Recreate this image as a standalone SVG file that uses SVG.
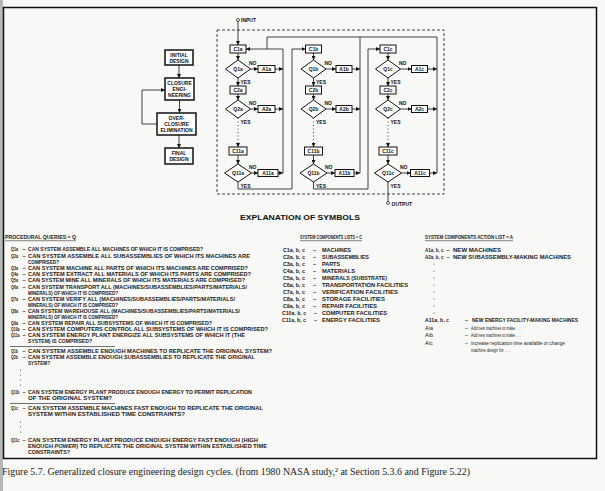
<svg xmlns="http://www.w3.org/2000/svg" width="605" height="491" viewBox="0 0 605 491">
<defs>
<marker id="ah" viewBox="0 0 6 6" refX="6" refY="3" markerWidth="4" markerHeight="4" orient="auto" markerUnits="userSpaceOnUse"><path d="M0,0L6,3L0,6z" fill="#111"/></marker>
<style>
.t{font-family:"Liberation Sans",Arial,sans-serif;font-weight:bold;font-size:5.5px;fill:#1a1a1a}
.q{font-family:"Liberation Sans",Arial,sans-serif;font-weight:bold;font-size:5px;fill:#1a1a1a}
.n{font-family:"Liberation Sans",Arial,sans-serif;font-size:5.5px;fill:#1a1a1a}
.d{font-family:"Liberation Sans",Arial,sans-serif;font-weight:bold;font-size:5px;fill:#111;text-anchor:middle}
.l{font-family:"Liberation Sans",Arial,sans-serif;font-weight:bold;font-size:5px;fill:#111}
.b{fill:#fff;stroke:#111;stroke-width:1}
.fb{fill:#fff;stroke:#111;stroke-width:1.5}
.ln{fill:none;stroke:#111;stroke-width:0.8}
.ar{fill:none;stroke:#111;stroke-width:0.8;marker-end:url(#ah)}
.cap{font-family:"Liberation Serif","Times New Roman",serif;font-size:10.5px;fill:#222}
</style>
</defs>
<rect x="0" y="0" width="605" height="491" fill="#f8f8f6"/>
<rect x="0" y="0" width="3" height="491" fill="#b8b8b8"/>
<rect x="3.5" y="7.5" width="593" height="451" fill="none" stroke="#111" stroke-width="1.5"/>

<!-- left flowchart -->
<g id="initial-design"><rect class="fb" x="165" y="50" width="28" height="15"/><text class="d" x="179" y="56.5">INITIAL</text><text class="d" x="179" y="62.5">DESIGN</text></g>
<g id="closure-engineering"><rect class="fb" x="165" y="78" width="29" height="22"/><text class="d" x="179.5" y="84.5">CLOSURE</text><text class="d" x="179.5" y="90.5">ENGI-</text><text class="d" x="179.5" y="96.5">NEERING</text></g>
<g id="over-closure"><rect class="fb" x="157" y="113" width="39" height="22"/><text class="d" x="176.5" y="119.5">OVER-</text><text class="d" x="176.5" y="125.5">CLOSURE</text><text class="d" x="176.5" y="131.5">ELIMINATION</text></g>
<g id="final-design"><rect class="fb" x="165" y="148" width="28" height="16"/><text class="d" x="179" y="155">FINAL</text><text class="d" x="179" y="161">DESIGN</text></g>

<!-- dashed frame -->
<rect x="217" y="30" width="227" height="164" fill="none" stroke="#111" stroke-width="0.8" stroke-dasharray="3,2"/>

<!-- column a -->
<g id="C1a"><rect class="b" x="230" y="45" width="16" height="8"/><text class="d" x="238" y="51">C1a</text></g>
<g id="Q1a"><polygon class="b" points="225.5,69 238,60 250.5,69 238,78"/><text class="d" x="238" y="71">Q1a</text></g>
<g id="A1a"><rect class="b" x="258" y="65.5" width="17" height="7"/><text class="d" x="266.5" y="70.8">A1a</text></g>
<g id="C2a"><rect class="b" x="230" y="86" width="16" height="8"/><text class="d" x="238" y="92">C2a</text></g>
<g id="Q2a"><polygon class="b" points="225.5,109 238,100 250.5,109 238,118"/><text class="d" x="238" y="111">Q2a</text></g>
<g id="A2a"><rect class="b" x="258" y="105.5" width="17" height="7"/><text class="d" x="266.5" y="110.8">A2a</text></g>
<g id="C11a"><rect class="b" x="229" y="147" width="18" height="8"/><text class="d" x="238" y="153">C11a</text></g>
<g id="Q11a"><polygon class="b" points="224.5,173 238,164 251.5,173 238,182"/><text class="d" x="238" y="175">Q11a</text></g>
<g id="A11a"><rect class="b" x="258" y="169.5" width="20" height="7"/><text class="d" x="268" y="174.8">A11a</text></g>

<!-- column b -->
<g id="C1b"><rect class="b" x="305.5" y="45" width="16" height="8"/><text class="d" x="313.5" y="51">C1b</text></g>
<g id="Q1b"><polygon class="b" points="301,69 313.5,60 326,69 313.5,78"/><text class="d" x="313.5" y="71">Q1b</text></g>
<g id="A1b"><rect class="b" x="336" y="65.5" width="16" height="7"/><text class="d" x="344" y="70.8">A1b</text></g>
<g id="C2b"><rect class="b" x="305.5" y="86" width="16" height="8"/><text class="d" x="313.5" y="92">C2b</text></g>
<g id="Q2b"><polygon class="b" points="301,109 313.5,100 326,109 313.5,118"/><text class="d" x="313.5" y="111">Q2b</text></g>
<g id="A2b"><rect class="b" x="336" y="105.5" width="16" height="7"/><text class="d" x="344" y="110.8">A2b</text></g>
<g id="C11b"><rect class="b" x="304.5" y="147" width="18" height="8"/><text class="d" x="313.5" y="153">C11b</text></g>
<g id="Q11b"><polygon class="b" points="300,173 313.5,164 327,173 313.5,182"/><text class="d" x="313.5" y="175">Q11b</text></g>
<g id="A11b"><rect class="b" x="335" y="169.5" width="19" height="7"/><text class="d" x="344.5" y="174.8">A11b</text></g>

<!-- column c -->
<g id="C1c"><rect class="b" x="380" y="45" width="16" height="8"/><text class="d" x="388" y="51">C1c</text></g>
<g id="Q1c"><polygon class="b" points="375.5,69 388,60 400.5,69 388,78"/><text class="d" x="388" y="71">Q1c</text></g>
<g id="A1c"><rect class="b" x="411.5" y="65.5" width="16" height="7"/><text class="d" x="419.5" y="70.8">A1c</text></g>
<g id="C2c"><rect class="b" x="380" y="86" width="16" height="8"/><text class="d" x="388" y="92">C2c</text></g>
<g id="Q2c"><polygon class="b" points="375.5,109 388,100 400.5,109 388,118"/><text class="d" x="388" y="111">Q2c</text></g>
<g id="A2c"><rect class="b" x="411.5" y="105.5" width="16" height="7"/><text class="d" x="419.5" y="110.8">A2c</text></g>
<g id="C11c"><rect class="b" x="379" y="147" width="18" height="8"/><text class="d" x="388" y="153">C11c</text></g>
<g id="Q11c"><polygon class="b" points="374.5,173 388,164 401.5,173 388,182"/><text class="d" x="388" y="175">Q11c</text></g>
<g id="A11c"><rect class="b" x="410.5" y="169.5" width="19" height="7"/><text class="d" x="420" y="174.8">A11c</text></g>

<g id="input"><circle cx="238" cy="20" r="1.5" fill="#fff" stroke="#111" stroke-width="0.7"/><text class="l" x="241" y="22">INPUT</text></g>
<g id="output"><circle cx="388" cy="203" r="1.5" fill="#fff" stroke="#111" stroke-width="0.7"/><text class="l" x="391.5" y="206">OUTPUT</text></g>

<g id="connectors">
<path class="ar" d="M179,65V78"/>
<path class="ar" d="M179.5,100V113"/>
<path class="ar" d="M179,135V148"/>
<path class="ar" d="M157,124H142V90H165"/>
<path class="ar" d="M238,21.5V45"/>
<path class="ar" d="M238,53V60"/>
<path class="ar" d="M238,78V86"/>
<path class="ar" d="M238,94V100"/>
<path class="ln" d="M238,118V143" stroke-dasharray="1,2.5"/>
<path class="ar" d="M238,143V147"/>
<path class="ar" d="M238,155V164"/>
<path class="ar" d="M250.5,69H258"/>
<path class="ar" d="M250.5,109H258"/>
<path class="ar" d="M251.5,173H258"/>
<path class="ar" d="M275,69H283"/>
<path class="ar" d="M275,109H283"/>
<path class="ar" d="M278,173H283"/>
<path class="ln" d="M283,173V49"/>
<path class="ar" d="M283,49H246"/>
<path class="ln" d="M267,49V37H437"/>
<path class="ar" d="M238,182V189H292V49H305.5"/>
<path class="ar" d="M313.5,53V60"/>
<path class="ar" d="M313.5,78V86"/>
<path class="ar" d="M313.5,94V100"/>
<path class="ln" d="M313.5,118V143" stroke-dasharray="1,2.5"/>
<path class="ar" d="M313.5,143V147"/>
<path class="ar" d="M313.5,155V164"/>
<path class="ar" d="M326,69H336"/>
<path class="ar" d="M326,109H336"/>
<path class="ar" d="M327,173H335"/>
<path class="ar" d="M352,69H360"/>
<path class="ar" d="M352,109H360"/>
<path class="ar" d="M354,173H360"/>
<path class="ln" d="M360,173V37"/>
<path class="ar" d="M313.5,182V189H368V49H380"/>
<path class="ar" d="M388,53V60"/>
<path class="ar" d="M388,78V86"/>
<path class="ar" d="M388,94V100"/>
<path class="ln" d="M388,118V143" stroke-dasharray="1,2.5"/>
<path class="ar" d="M388,143V147"/>
<path class="ar" d="M388,155V164"/>
<path class="ar" d="M400.5,69H411.5"/>
<path class="ar" d="M400.5,109H411.5"/>
<path class="ar" d="M401.5,173H410.5"/>
<path class="ar" d="M427.5,69H437"/>
<path class="ar" d="M427.5,109H437"/>
<path class="ar" d="M429.5,173H437"/>
<path class="ln" d="M437,173V37"/>
<path class="ln" d="M388,182V201.5"/>
</g>

<g class="l">
<text x="249" y="65">NO</text><text x="249" y="105">NO</text><text x="249" y="169">NO</text>
<text x="324.5" y="65">NO</text><text x="324.5" y="105">NO</text><text x="325" y="169">NO</text>
<text x="399" y="65">NO</text><text x="399" y="105">NO</text><text x="400" y="169">NO</text>
<text x="240.5" y="84">YES</text><text x="240.5" y="124">YES</text><text x="240.5" y="187.5">YES</text>
<text x="316" y="84">YES</text><text x="316" y="124">YES</text><text x="316" y="187.5">YES</text>
<text x="390.5" y="84">YES</text><text x="390.5" y="124">YES</text><text x="390.5" y="188">YES</text>
</g>

<text x="300" y="220" text-anchor="middle" font-family="Liberation Sans,Arial,sans-serif" font-weight="bold" font-size="8" fill="#111" textLength="120" lengthAdjust="spacingAndGlyphs">EXPLANATION OF SYMBOLS</text>

<g id="queries">
<text class="t" x="5" y="239" textLength="71" lengthAdjust="spacingAndGlyphs">PROCEDURAL QUERIES = Q</text>
<path d="M5,240.7H76" stroke="#111" stroke-width="0.5"/>
<g class="q">
<text x="11" y="251" textLength="7" lengthAdjust="spacingAndGlyphs">Q1a</text>
<text x="11" y="258" textLength="7" lengthAdjust="spacingAndGlyphs">Q2a</text>
<text x="11" y="270" textLength="7" lengthAdjust="spacingAndGlyphs">Q3a</text>
<text x="11" y="276" textLength="7" lengthAdjust="spacingAndGlyphs">Q4a</text>
<text x="11" y="282" textLength="7" lengthAdjust="spacingAndGlyphs">Q5a</text>
<text x="11" y="289" textLength="7" lengthAdjust="spacingAndGlyphs">Q6a</text>
<text x="11" y="301" textLength="7" lengthAdjust="spacingAndGlyphs">Q7a</text>
<text x="11" y="313" textLength="7" lengthAdjust="spacingAndGlyphs">Q8a</text>
<text x="11" y="325" textLength="7" lengthAdjust="spacingAndGlyphs">Q9a</text>
<text x="11" y="331" textLength="8.5" lengthAdjust="spacingAndGlyphs">Q10a</text>
<text x="11" y="337" textLength="8.5" lengthAdjust="spacingAndGlyphs">Q11a</text>
<text x="11" y="353" textLength="7" lengthAdjust="spacingAndGlyphs">Q1b</text>
<text x="11" y="359" textLength="7" lengthAdjust="spacingAndGlyphs">Q2b</text>
<text x="11" y="394" textLength="8.5" lengthAdjust="spacingAndGlyphs">Q11b</text>
<text x="11" y="410" textLength="7" lengthAdjust="spacingAndGlyphs">Q1c</text>
<text x="11" y="442" textLength="8.5" lengthAdjust="spacingAndGlyphs">Q11c</text>
</g>
<g class="t">
<text x="22.5" y="251">–</text><text x="28" y="251" textLength="175" lengthAdjust="spacingAndGlyphs">CAN SYSTEM ASSEMBLE ALL MACHINES OF WHICH IT IS COMPRISED?</text>
<text x="22.5" y="258">–</text><text x="28" y="258" textLength="222" lengthAdjust="spacingAndGlyphs">CAN SYSTEM ASSEMBLE ALL SUBASSEMBLIES OF WHICH ITS MACHINES ARE</text>
<text x="28" y="264" textLength="31" lengthAdjust="spacingAndGlyphs">COMPRISED?</text>
<text x="22.5" y="270">–</text><text x="28" y="270" textLength="220" lengthAdjust="spacingAndGlyphs">CAN SYSTEM MACHINE ALL PARTS OF WHICH ITS MACHINES ARE COMPRISED?</text>
<text x="22.5" y="276">–</text><text x="28" y="276" textLength="223" lengthAdjust="spacingAndGlyphs">CAN SYSTEM EXTRACT ALL MATERIALS OF WHICH ITS PARTS ARE COMPRISED?</text>
<text x="22.5" y="282">–</text><text x="28" y="282" textLength="217" lengthAdjust="spacingAndGlyphs">CAN SYSTEM MINE ALL MINERALS OF WHICH ITS MATERIALS ARE COMPRISED?</text>
<text x="22.5" y="289">–</text><text x="28" y="289" textLength="219" lengthAdjust="spacingAndGlyphs">CAN SYSTEM TRANSPORT ALL (MACHINES/SUBASSEMBLIES/PARTS/MATERIALS/</text>
<text x="28" y="295" textLength="90" lengthAdjust="spacingAndGlyphs">MINERALS) OF WHICH IT IS COMPRISED?</text>
<text x="22.5" y="301">–</text><text x="28" y="301" textLength="207" lengthAdjust="spacingAndGlyphs">CAN SYSTEM VERIFY ALL (MACHINES/SUBASSEMBLIES/PARTS/MATERIALS/</text>
<text x="28" y="307" textLength="90" lengthAdjust="spacingAndGlyphs">MINERALS) OF WHICH IT IS COMPRISED?</text>
<text x="22.5" y="313">–</text><text x="28" y="313" textLength="212" lengthAdjust="spacingAndGlyphs">CAN SYSTEM WAREHOUSE ALL (MACHINES/SUBASSEMBLIES/PARTS/MATERIALS/</text>
<text x="28" y="319" textLength="90" lengthAdjust="spacingAndGlyphs">MINERALS) OF WHICH IT IS COMPRISED?</text>
<text x="22.5" y="325">–</text><text x="28" y="325" textLength="184" lengthAdjust="spacingAndGlyphs">CAN SYSTEM REPAIR ALL SUBSYSTEMS OF WHICH IT IS COMPRISED?</text>
<text x="22.5" y="331">–</text><text x="28" y="331" textLength="240" lengthAdjust="spacingAndGlyphs">CAN SYSTEM COMPUTERS CONTROL ALL SUBSYSTEMS OF WHICH IT IS COMPRISED?</text>
<text x="22.5" y="337">–</text><text x="28" y="337" textLength="217" lengthAdjust="spacingAndGlyphs">CAN SYSTEM ENERGY PLANT ENERGIZE ALL SUBSYSTEMS OF WHICH IT (THE</text>
<text x="28" y="343" textLength="64" lengthAdjust="spacingAndGlyphs">SYSTEM) IS COMPRISED?</text>
<text x="22.5" y="353">–</text><text x="28" y="353" textLength="244" lengthAdjust="spacingAndGlyphs">CAN SYSTEM ASSEMBLE ENOUGH MACHINES TO REPLICATE THE ORIGINAL SYSTEM?</text>
<text x="22.5" y="359">–</text><text x="28" y="359" textLength="227" lengthAdjust="spacingAndGlyphs">CAN SYSTEM ASSEMBLE ENOUGH SUBASSEMBLIES TO REPLICATE THE ORIGINAL</text>
<text x="28" y="365" textLength="22" lengthAdjust="spacingAndGlyphs">SYSTEM?</text>
<text x="22.5" y="394">–</text><text x="28" y="394" textLength="224" lengthAdjust="spacingAndGlyphs">CAN SYSTEM ENERGY PLANT PRODUCE ENOUGH ENERGY TO PERMIT REPLICATION</text>
<text x="28" y="400" textLength="84" lengthAdjust="spacingAndGlyphs">OF THE ORIGINAL SYSTEM?</text>
<text x="22.5" y="410">–</text><text x="28" y="410" textLength="235" lengthAdjust="spacingAndGlyphs">CAN SYSTEM ASSEMBLE MACHINES FAST ENOUGH TO REPLICATE THE ORIGINAL</text>
<text x="28" y="416" textLength="157" lengthAdjust="spacingAndGlyphs">SYSTEM WITHIN ESTABLISHED TIME CONSTRAINTS?</text>
<text x="22.5" y="442">–</text><text x="28" y="442" textLength="230" lengthAdjust="spacingAndGlyphs">CAN SYSTEM ENERGY PLANT PRODUCE ENOUGH ENERGY FAST ENOUGH (HIGH</text>
<text x="28" y="448" textLength="239" lengthAdjust="spacingAndGlyphs">ENOUGH <tspan font-style="italic">POWER</tspan>) TO REPLICATE THE ORIGINAL SYSTEM WITHIN ESTABLISHED TIME</text>
<text x="28" y="454" textLength="42" lengthAdjust="spacingAndGlyphs">CONSTRAINTS?</text>
</g>
<path d="M10,346.5H115M10,403.5H115" stroke="#111" stroke-width="0.6"/>
<g fill="#222"><circle cx="20.5" cy="370" r="0.5"/><circle cx="20.5" cy="375" r="0.5"/><circle cx="20.5" cy="380" r="0.5"/><circle cx="20.5" cy="385" r="0.5"/><circle cx="20.5" cy="422" r="0.5"/><circle cx="20.5" cy="427" r="0.5"/><circle cx="20.5" cy="432" r="0.5"/></g>
</g>

<g id="components">
<text class="t" x="300" y="239" textLength="62" lengthAdjust="spacingAndGlyphs">SYSTEM COMPONENTS LISTS = C</text>
<path d="M300,240.7H362" stroke="#111" stroke-width="0.5"/>
<g class="t">
<text x="283" y="252" textLength="22" lengthAdjust="spacingAndGlyphs">C1a, b, c</text><text x="313" y="252">–</text><text x="322" y="252" textLength="29" lengthAdjust="spacingAndGlyphs">MACHINES</text>
<text x="283" y="259" textLength="22" lengthAdjust="spacingAndGlyphs">C2a, b, c</text><text x="313" y="259">–</text><text x="322" y="259" textLength="47" lengthAdjust="spacingAndGlyphs">SUBASSEMBLIES</text>
<text x="283" y="266" textLength="22" lengthAdjust="spacingAndGlyphs">C3a, b, c</text><text x="313" y="266">–</text><text x="322" y="266" textLength="18" lengthAdjust="spacingAndGlyphs">PARTS</text>
<text x="283" y="273" textLength="22" lengthAdjust="spacingAndGlyphs">C4a, b, c</text><text x="313" y="273">–</text><text x="322" y="273" textLength="33" lengthAdjust="spacingAndGlyphs">MATERIALS</text>
<text x="283" y="280" textLength="22" lengthAdjust="spacingAndGlyphs">C5a, b, c</text><text x="313" y="280">–</text><text x="322" y="280" textLength="65" lengthAdjust="spacingAndGlyphs">MINERALS (SUBSTRATE)</text>
<text x="283" y="287" textLength="22" lengthAdjust="spacingAndGlyphs">C6a, b, c</text><text x="313" y="287">–</text><text x="322" y="287" textLength="86" lengthAdjust="spacingAndGlyphs">TRANSPORTATION FACILITIES</text>
<text x="283" y="294" textLength="22" lengthAdjust="spacingAndGlyphs">C7a, b, c</text><text x="313" y="294">–</text><text x="322" y="294" textLength="76" lengthAdjust="spacingAndGlyphs">VERIFICATION FACILITIES</text>
<text x="283" y="301" textLength="22" lengthAdjust="spacingAndGlyphs">C8a, b, c</text><text x="313" y="301">–</text><text x="322" y="301" textLength="63" lengthAdjust="spacingAndGlyphs">STORAGE FACILITIES</text>
<text x="283" y="308" textLength="22" lengthAdjust="spacingAndGlyphs">C9a, b, c</text><text x="313" y="308">–</text><text x="322" y="308" textLength="55" lengthAdjust="spacingAndGlyphs">REPAIR FACILITIES</text>
<text x="282" y="315" textLength="24" lengthAdjust="spacingAndGlyphs">C10a, b, c</text><text x="314" y="315">–</text><text x="322" y="315" textLength="65" lengthAdjust="spacingAndGlyphs">COMPUTER FACILITIES</text>
<text x="282" y="322" textLength="24" lengthAdjust="spacingAndGlyphs">C11a, b, c</text><text x="314" y="322">–</text><text x="322" y="322" textLength="58" lengthAdjust="spacingAndGlyphs">ENERGY FACILITIES</text>
</g>
</g>

<g id="actions">
<text class="t" x="425" y="239" textLength="88" lengthAdjust="spacingAndGlyphs">SYSTEM COMPONENTS ACTION LIST = A</text>
<path d="M425,240.7H513" stroke="#111" stroke-width="0.5"/>
<g class="t">
<text x="425" y="252" textLength="18.5" lengthAdjust="spacingAndGlyphs">A1a, b, c</text><text x="446.5" y="252">–</text><text x="453" y="252" textLength="48" lengthAdjust="spacingAndGlyphs">NEW MACHINES</text>
<text x="425" y="259" textLength="18.5" lengthAdjust="spacingAndGlyphs">A2a, b, c</text><text x="446.5" y="259">–</text><text x="453" y="259" textLength="118" lengthAdjust="spacingAndGlyphs">NEW SUBASSEMBLY-MAKING MACHINES</text>
<text x="425" y="322" textLength="24" lengthAdjust="spacingAndGlyphs">A11a, b, c</text><text x="465" y="322">–</text><text x="472" y="322" textLength="106" lengthAdjust="spacingAndGlyphs">NEW ENERGY FACILITY-MAKING MACHINES</text>
</g>
<g class="n">
<text x="425" y="329.5">Aia</text><text x="465" y="329.5">–</text><text x="471" y="329.5" textLength="50" lengthAdjust="spacingAndGlyphs">Add new machines to make . . .</text>
<text x="425" y="337">Aib</text><text x="465" y="337">–</text><text x="471" y="337" textLength="50" lengthAdjust="spacingAndGlyphs">Add new machines to make . . .</text>
<text x="425" y="344.5">Aic</text><text x="465" y="344.5">–</text><text x="471" y="344.5" textLength="94" lengthAdjust="spacingAndGlyphs">increase replication time available or change</text>
<text x="471" y="351.5" textLength="39" lengthAdjust="spacingAndGlyphs">machine design for . . .</text>
</g>
<g fill="#222"><circle cx="434" cy="264" r="0.5"/><circle cx="434" cy="271" r="0.5"/><circle cx="434" cy="278" r="0.5"/><circle cx="434" cy="285" r="0.5"/><circle cx="434" cy="292" r="0.5"/><circle cx="434" cy="299" r="0.5"/><circle cx="434" cy="306" r="0.5"/><circle cx="434" cy="313" r="0.5"/></g>
</g>

<text class="cap" x="2" y="475" textLength="468" lengthAdjust="spacingAndGlyphs">Figure 5.7. Generalized closure engineering design cycles. (from 1980 NASA study,² at Section 5.3.6 and Figure 5.22)</text>
</svg>
